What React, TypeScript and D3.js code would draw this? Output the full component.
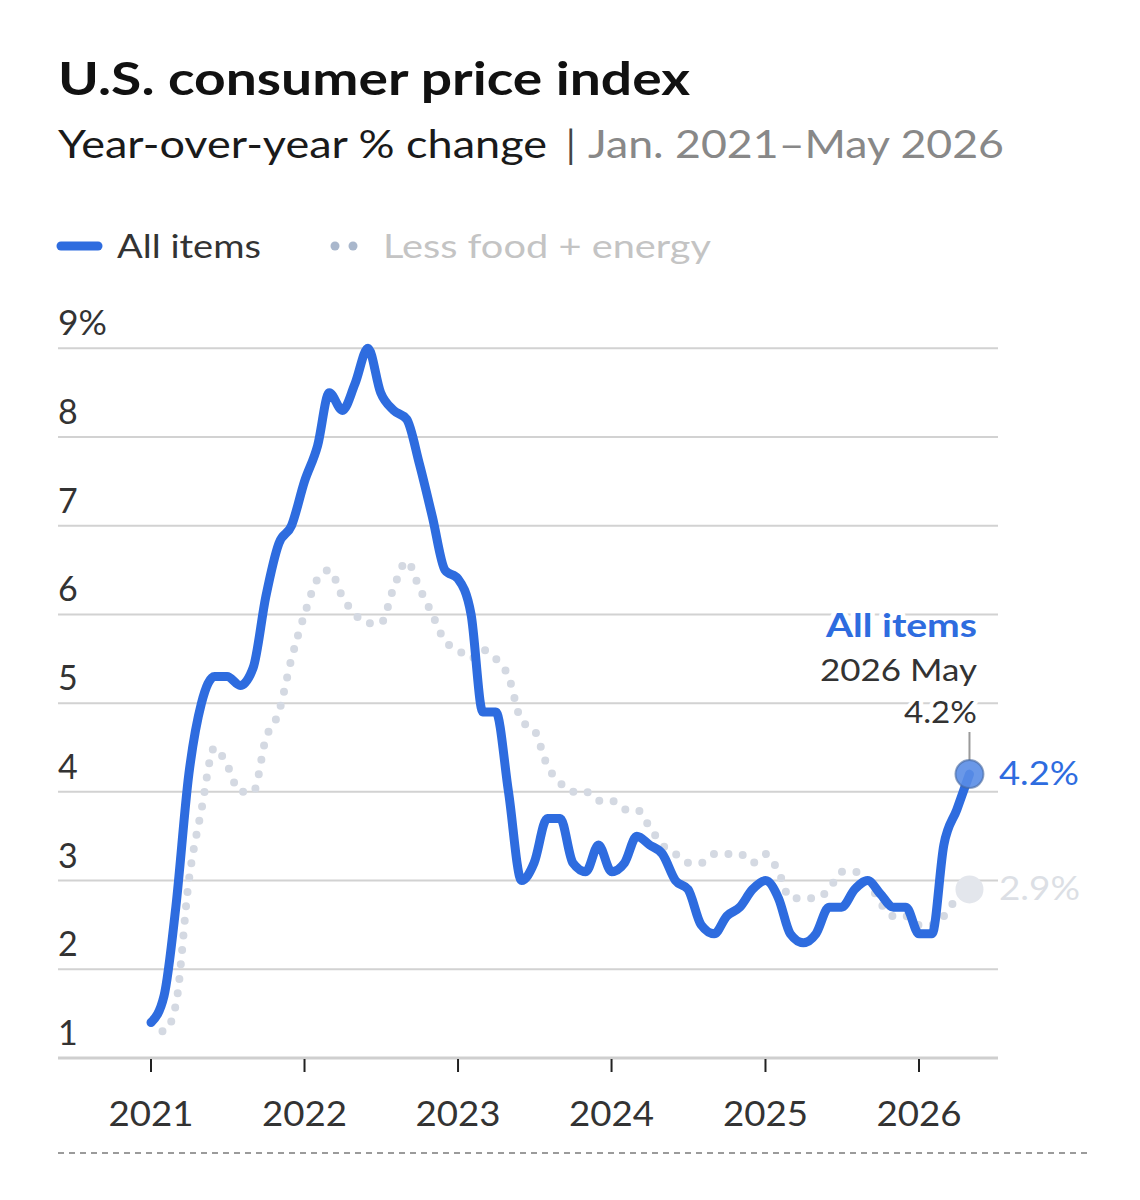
import * as d3 from "d3";

// monthly YoY % change, Jan 2021 – May 2026
const startMonth = new Date(2021, 0, 1);

const allItems = [
  1.4, 1.7, 2.7, 4.2, 5.0, 5.3, 5.3, 5.2, 5.4, 6.2, 6.8, 7.0,
  7.5, 7.9, 8.5, 8.3, 8.6, 9.0, 8.5, 8.3, 8.2, 7.7, 7.1, 6.5,
  6.4, 6.0, 4.9, 4.9, 4.0, 3.0, 3.2, 3.7, 3.7, 3.2, 3.1, 3.4,
  3.1, 3.2, 3.5, 3.4, 3.3, 3.0, 2.9, 2.5, 2.4, 2.6, 2.7, 2.9,
  3.0, 2.8, 2.4, 2.3, 2.4, 2.7, 2.7, 2.9, 3.0, 2.85, 2.7, 2.7,
  2.4, 2.4, 3.4, 3.8, 4.2,
];

const lessFoodEnergy = [
  1.4, 1.3, 1.6, 3.0, 3.8, 4.5, 4.3, 4.0, 4.0, 4.6, 4.9, 5.5,
  6.0, 6.4, 6.5, 6.2, 6.0, 5.9, 5.9, 6.3, 6.6, 6.3, 6.0, 5.7,
  5.6, 5.5, 5.6, 5.5, 5.3, 4.8, 4.7, 4.3, 4.1, 4.0, 4.0, 3.9,
  3.9, 3.8, 3.8, 3.6, 3.4, 3.3, 3.2, 3.2, 3.3, 3.3, 3.3, 3.2,
  3.3, 3.1, 2.8, 2.8, 2.8, 2.9, 3.1, 3.1, 3.0, 2.75, 2.6, 2.6,
  2.5, 2.5, 2.6, 2.8, 2.9,
];

const yTicks = [1, 2, 3, 4, 5, 6, 7, 8, 9];
const xTickYears = [2021, 2022, 2023, 2024, 2025, 2026];

const BLUE = "#2e6cdf";
const CORE = "#d4d9e2";
const FONT = "Lato, 'Noto Sans', sans-serif";

type Pt = { date: Date; value: number };

const toPoints = (vals: number[]): Pt[] =>
  vals.map((v, i) => ({ date: d3.timeMonth.offset(startMonth, i), value: v }));

// the reference face is wider than Lato, so stretch to the measured widths
const wide = (w: number) => ({ textLength: w, lengthAdjust: "spacingAndGlyphs" });

export default function App() {
  const W = 1140;
  const H = 1200;
  const left = 58;
  const right = 998;

  const x = d3
    .scaleTime()
    .domain([new Date(2021, 0, 1), new Date(2026, 0, 1)])
    .range([151, 919]);
  const y = d3.scaleLinear().domain([1, 9]).range([1058, 348.3]);

  const line = d3
    .line<Pt>()
    .x((d) => x(d.date))
    .y((d) => y(d.value))
    .curve(d3.curveMonotoneX);

  const allPts = toPoints(allItems);
  const corePts = toPoints(lessFoodEnergy);
  const lastAll = allPts[allPts.length - 1];
  const lastCore = corePts[corePts.length - 1];
  const ex = x(lastAll.date);
  const eyAll = y(lastAll.value);
  const eyCore = y(lastCore.value);

  const halo = {
    stroke: "#fff",
    strokeWidth: 8,
    paintOrder: "stroke",
    strokeLinejoin: "round" as const,
  };

  return (
    <svg
      width={W}
      height={H}
      style={{ position: "absolute", left: 0, top: 0, background: "#fff" }}
      fontFamily={FONT}
    >
      {/* header */}
      <text x={left} y={95} fontSize={46} fontWeight={700} fill="#111" {...wide(632)}>
        U.S. consumer price index
      </text>
      <text x={left} y={158} fontSize={38} fill="#1a1a1a" {...wide(489)}>
        Year-over-year % change
      </text>
      <text x={566} y={158} fontSize={38} fill="#444">|</text>
      <text x={588} y={158} fontSize={38} fill="#888" {...wide(416)}>
        Jan. 2021–May 2026
      </text>

      {/* legend */}
      <line x1={61} x2={98} y1={246} y2={246} stroke={BLUE} strokeWidth={9} strokeLinecap="round" />
      <text x={117} y={258} fontSize={32} fill="#333" {...wide(144)}>All items</text>
      <circle cx={335} cy={246} r={4.5} fill="#a9b7cc" />
      <circle cx={353} cy={246} r={4.5} fill="#a9b7cc" />
      <text x={383} y={258} fontSize={32} fill="#c4c4c4" {...wide(328)}>Less food + energy</text>

      {/* grid + y labels */}
      {yTicks.map((t) => (
        <g key={t}>
          <line
            x1={left}
            x2={right}
            y1={y(t)}
            y2={y(t)}
            stroke={t === 1 ? "#cfcfcf" : "#d2d2d2"}
            strokeWidth={t === 1 ? 3 : 2}
          />
          <text x={left} y={y(t) - 13} fontSize={34} fill="#333" {...(t === 9 ? wide(49) : {})}>
            {t === 9 ? "9%" : t}
          </text>
        </g>
      ))}

      {/* x axis */}
      {xTickYears.map((yr) => {
        const px = x(new Date(yr, 0, 1));
        return (
          <g key={yr}>
            <line x1={px} x2={px} y1={1059} y2={1072} stroke="#222" strokeWidth={2} />
            <text x={px} y={1126} fontSize={35} fill="#333" textAnchor="middle" {...wide(85)}>
              {yr}
            </text>
          </g>
        );
      })}

      {/* series */}
      <path
        d={line(corePts) ?? ""}
        fill="none"
        stroke={CORE}
        strokeWidth={8}
        strokeDasharray="0 14.5"
        strokeLinecap="round"
      />
      <circle cx={ex} cy={eyCore} r={14} fill="#e3e6ec" />
      <path
        d={line(allPts) ?? ""}
        fill="none"
        stroke={BLUE}
        strokeWidth={9}
        strokeLinejoin="round"
        strokeLinecap="round"
      />

      {/* end annotation */}
      <line x1={ex} x2={ex} y1={732} y2={eyAll - 14} stroke="#9a9a9a" strokeWidth={2} />
      <circle
        cx={ex}
        cy={eyAll}
        r={14}
        fill="#5a8de6"
        fillOpacity={0.9}
        stroke="#46679f"
        strokeOpacity={0.6}
        strokeWidth={2}
      />
      <text x={977} y={637} fontSize={33} fontWeight={700} fill={BLUE} textAnchor="end" {...wide(151)} {...halo}>
        All items
      </text>
      <text x={977} y={681} fontSize={31} fill="#333" textAnchor="end" {...wide(157)} {...halo}>
        2026 May
      </text>
      <text x={977} y={723} fontSize={31} fill="#333" textAnchor="end" {...wide(73)} {...halo}>
        {lastAll.value.toFixed(1)}%
      </text>
      <text x={999} y={785} fontSize={33} fill={BLUE} {...wide(80)}>
        {lastAll.value.toFixed(1)}%
      </text>
      <text x={999} y={900} fontSize={33} fill="#dcdfe5" {...wide(81)}>
        {lastCore.value.toFixed(1)}%
      </text>

      {/* footer rule */}
      <line x1={left} x2={1088} y1={1153} y2={1153} stroke="#9b9b9b" strokeWidth={2} strokeDasharray="6 5" />
    </svg>
  );
}
